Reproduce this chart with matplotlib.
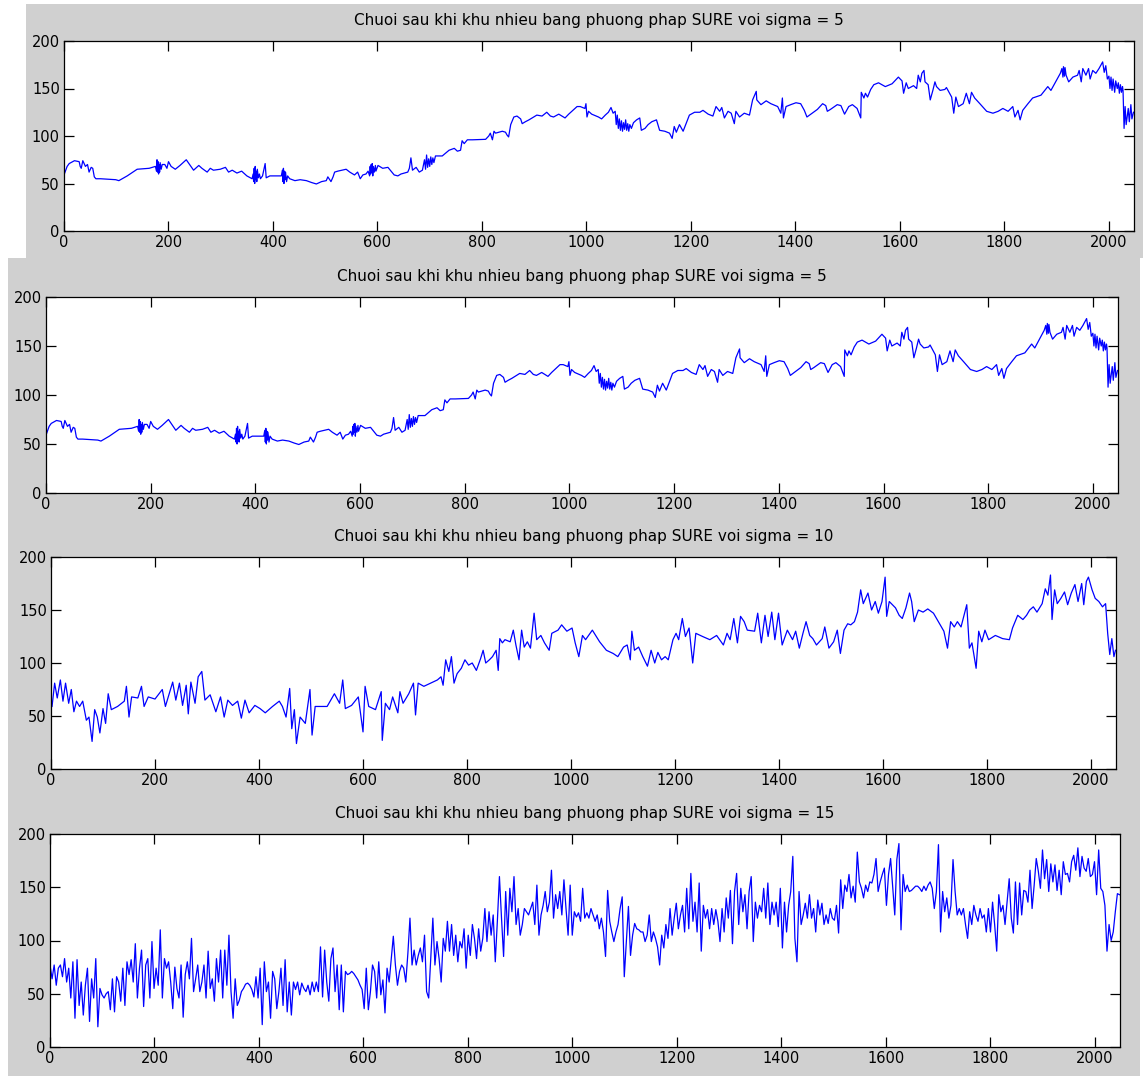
import numpy as np
import matplotlib
matplotlib.use("Agg")
import matplotlib.pyplot as plt
from matplotlib.patches import Rectangle

# Denoised series (sample index, value), SURE thresholding, sigma = 5
SIGMA5 = [
    (0, 59), (6, 68), (10, 71), (20, 74), (29, 73), (31, 68), (33, 66), (36, 74), (41, 68), (45, 70),
    (48, 62), (52, 67), (55, 66), (58, 57), (61, 55), (70, 55), (99, 54), (105, 53), (121, 58), (140, 65),
    (163, 66), (175, 68), (177, 63), (178, 75), (179, 62), (180, 73), (181, 60), (182, 70), (183, 62), (184, 72),
    (186, 65), (188, 70), (193, 70), (197, 66), (200, 73), (205, 68), (213, 65), (222, 69), (234, 75), (248, 64),
    (258, 69), (264, 66), (274, 62), (280, 66), (286, 64), (299, 65), (309, 67), (315, 62), (322, 64), (331, 61),
    (340, 63), (350, 58), (360, 55), (362, 60), (363, 52), (364, 66), (365, 50), (366, 68), (367, 54), (368, 63),
    (369, 52), (370, 65), (372, 56), (374, 60), (376, 55), (380, 58), (385, 71), (387, 56), (394, 58), (416, 58),
    (418, 64), (419, 52), (420, 66), (421, 50), (422, 63), (423, 54), (424, 62), (426, 52), (428, 58), (432, 55),
    (442, 53), (452, 54), (464, 53), (474, 51), (483, 49.5), (493, 52), (502, 53), (505, 57), (511, 52), (515, 57),
    (518, 62), (524, 63), (540, 65), (547, 62), (556, 59), (562, 62), (567, 55), (572, 59), (578, 60), (582, 63),
    (585, 58), (586, 68), (587, 60), (588, 70), (589, 62), (590, 71), (591, 58), (592, 68), (594, 62), (596, 69),
    (597, 63), (601, 69), (610, 66), (620, 67), (632, 59), (639, 58), (645, 60), (658, 62), (661, 66), (664, 77),
    (667, 64), (674, 67), (680, 62), (686, 64), (690, 75), (692, 65), (694, 80), (696, 67), (698, 76), (700, 68),
    (702, 78), (704, 70), (706, 77), (708, 72), (711, 79), (724, 79), (737, 85), (747, 87), (753, 84), (759, 85),
    (762, 95), (766, 92), (772, 96), (782, 96), (807, 96.5), (813, 100), (816, 103), (820, 96), (823, 105), (826, 103),
    (839, 105), (845, 104), (848, 101), (851, 99), (855, 112), (861, 120), (867, 121), (874, 118), (877, 113), (883, 115),
    (890, 117), (905, 122), (915, 121), (924, 125), (931, 121), (937, 120), (947, 123), (953, 121), (959, 119), (966, 123),
    (982, 131), (988, 131), (997, 129), (999, 134), (1001, 120), (1004, 126), (1010, 123), (1023, 120), (1029, 118), (1036, 122),
    (1042, 125), (1047, 130), (1051, 124), (1055, 126), (1057, 112), (1059, 122), (1061, 108), (1063, 118), (1065, 106), (1067, 116),
    (1069, 105), (1071, 114), (1073, 107), (1075, 117), (1077, 106), (1079, 113), (1081, 105), (1083, 112), (1086, 108), (1090, 114),
    (1096, 117), (1102, 119), (1105, 106), (1112, 108), (1118, 112), (1125, 115), (1134, 117), (1140, 106), (1150, 105), (1159, 103),
    (1164, 97.5), (1168, 110), (1172, 104), (1178, 112), (1185, 105), (1197, 122), (1207, 125), (1217, 125), (1223, 127), (1233, 123),
    (1242, 121), (1248, 131), (1255, 126), (1259, 130), (1264, 119), (1271, 126), (1277, 124), (1283, 113), (1286, 126), (1293, 120),
    (1302, 124), (1312, 122), (1318, 138), (1325, 147), (1326, 138), (1334, 133), (1344, 137), (1353, 134), (1366, 131), (1372, 124),
    (1375, 140), (1377, 119), (1382, 131), (1391, 133), (1401, 135), (1410, 134), (1417, 127), (1422, 120), (1432, 124), (1442, 128),
    (1452, 134), (1458, 132), (1461, 126), (1467, 128), (1480, 133), (1487, 132), (1494, 123), (1502, 131), (1509, 133), (1518, 129),
    (1525, 119), (1526, 146), (1531, 140), (1534, 145), (1538, 141), (1544, 149), (1550, 154), (1559, 156), (1572, 152), (1585, 155),
    (1597, 162), (1604, 158), (1607, 145), (1612, 156), (1616, 150), (1626, 153), (1632, 150), (1635, 164), (1639, 157), (1642, 166),
    (1646, 169), (1648, 157), (1654, 154), (1658, 138), (1663, 148), (1667, 157), (1670, 152), (1677, 148), (1686, 149), (1689, 151),
    (1699, 141), (1703, 124), (1707, 141), (1712, 131), (1721, 134), (1727, 145), (1733, 134), (1737, 146), (1743, 140), (1753, 134),
    (1766, 126), (1778, 124), (1788, 126), (1797, 129), (1807, 126), (1816, 131), (1820, 120), (1826, 127), (1830, 117), (1835, 127),
    (1845, 134), (1854, 140), (1870, 143), (1883, 152), (1889, 148), (1899, 158), (1907, 166), (1910, 171), (1912, 162), (1913, 173),
    (1915, 163), (1916, 172), (1918, 164), (1923, 157), (1931, 162), (1940, 164), (1943, 169), (1947, 157), (1950, 171), (1956, 164),
    (1961, 171), (1964, 160), (1969, 169), (1975, 166), (1981, 171), (1988, 178), (1991, 167), (1994, 174), (1997, 160), (2000, 163),
    (2002, 150), (2004, 162), (2006, 148), (2008, 160), (2011, 146), (2013, 158), (2016, 150), (2018, 156), (2020, 145), (2022, 154),
    (2024, 146), (2026, 152), (2027, 148), (2029, 108), (2031, 131), (2033, 112), (2037, 129), (2039, 115), (2042, 133), (2044, 118),
    (2047, 125),
]

# Denoised series, sigma = 10
SIGMA10 = [
    (2, 59), (7, 81), (12, 67), (18, 84), (23, 64), (28, 81), (34, 62), (39, 75), (44, 54), (49, 64),
    (55, 59), (61, 64), (68, 46), (73, 49), (79, 26), (84, 56), (89, 49), (94, 34), (100, 57), (105, 43),
    (110, 71), (116, 56), (128, 59), (141, 64), (145, 78), (150, 49), (155, 68), (167, 67), (174, 78), (179, 59),
    (187, 68), (200, 66), (214, 75), (220, 59), (234, 82), (240, 65), (247, 81), (253, 60), (260, 79), (264, 52),
    (269, 82), (277, 62), (283, 87), (290, 92), (296, 65), (306, 70), (317, 54), (326, 68), (333, 49), (340, 65),
    (349, 60), (359, 64), (366, 48), (373, 65), (381, 53), (392, 60), (402, 57), (412, 53), (426, 59), (439, 64),
    (445, 59), (452, 49), (459, 76), (463, 38), (468, 56), (472, 24), (479, 49), (489, 43), (498, 75), (502, 32),
    (508, 59), (518, 59), (531, 59), (545, 71), (555, 62), (561, 84), (566, 57), (578, 60), (591, 68), (600, 35),
    (604, 78), (611, 59), (624, 56), (635, 73), (637, 27), (643, 62), (651, 56), (657, 68), (667, 53), (671, 73),
    (677, 62), (688, 71), (697, 81), (701, 51), (706, 81), (717, 78), (730, 81), (743, 84), (750, 87), (754, 79),
    (759, 103), (765, 92), (770, 106), (775, 81), (781, 90), (789, 95), (796, 103), (803, 98), (810, 100), (818, 93),
    (826, 104), (831, 112), (836, 100), (843, 103), (849, 106), (856, 112), (860, 93), (863, 123), (868, 119), (873, 122),
    (883, 120), (889, 131), (894, 117), (900, 103), (905, 131), (910, 115), (916, 120), (922, 114), (929, 147), (934, 122),
    (942, 126), (949, 119), (958, 112), (963, 128), (975, 131), (982, 136), (992, 130), (1002, 133), (1008, 119), (1015, 106),
    (1022, 126), (1028, 122), (1041, 131), (1055, 120), (1068, 112), (1081, 109), (1090, 106), (1101, 115), (1108, 117), (1114, 103),
    (1117, 130), (1122, 112), (1130, 115), (1138, 106), (1147, 97), (1154, 112), (1161, 100), (1167, 110), (1174, 103), (1181, 106),
    (1187, 103), (1196, 122), (1202, 128), (1207, 122), (1214, 142), (1220, 125), (1227, 133), (1234, 100), (1240, 128), (1253, 125),
    (1267, 122), (1280, 126), (1293, 117), (1300, 128), (1306, 122), (1313, 142), (1320, 119), (1326, 144), (1333, 139), (1339, 131),
    (1353, 130), (1359, 147), (1366, 119), (1373, 145), (1379, 125), (1386, 148), (1392, 122), (1399, 147), (1406, 117), (1416, 131),
    (1426, 122), (1432, 130), (1439, 114), (1446, 128), (1452, 139), (1459, 126), (1465, 123), (1472, 117), (1483, 123), (1488, 134),
    (1496, 114), (1505, 120), (1512, 131), (1518, 109), (1525, 131), (1532, 137), (1538, 136), (1545, 139), (1551, 148), (1557, 169),
    (1562, 156), (1571, 166), (1578, 150), (1585, 158), (1591, 147), (1598, 158), (1604, 181), (1607, 144), (1612, 158), (1624, 152),
    (1631, 145), (1637, 142), (1644, 152), (1651, 166), (1655, 158), (1660, 139), (1668, 150), (1677, 148), (1686, 151), (1697, 147),
    (1710, 136), (1717, 130), (1724, 114), (1730, 139), (1737, 134), (1743, 139), (1750, 134), (1761, 155), (1766, 114), (1771, 119),
    (1779, 95), (1784, 130), (1790, 120), (1796, 131), (1803, 122), (1816, 126), (1830, 123), (1843, 122), (1849, 133), (1859, 145),
    (1869, 141), (1876, 145), (1882, 150), (1889, 153), (1896, 148), (1906, 156), (1912, 170), (1917, 164), (1922, 183), (1925, 141),
    (1930, 169), (1935, 156), (1942, 161), (1949, 167), (1955, 155), (1962, 166), (1969, 174), (1975, 158), (1982, 175), (1986, 155),
    (1991, 177), (1995, 181), (2002, 169), (2008, 161), (2015, 158), (2022, 153), (2028, 156), (2032, 128), (2036, 108), (2040, 123),
    (2044, 106), (2047, 112),
]

# Denoised series, sigma = 15 (values at evenly spaced samples over 0..2047)
SIGMA15 = [
    77, 64, 77, 58, 74, 77, 66, 83, 61, 74, 46, 80, 27, 82, 39, 61, 30, 58, 74, 24, 64, 46, 83, 19, 55, 49, 46, 50, 52, 35, 64, 33, 66,
    61, 43, 74, 39, 80, 68, 82, 61, 97, 46, 74, 91, 38, 77, 83, 46, 99, 55, 74, 58, 110, 46, 83, 74, 80, 61, 36, 75, 55, 46, 77,
    28, 68, 80, 64, 102, 52, 64, 77, 52, 61, 77, 46, 90, 55, 64, 43, 83, 61, 91, 46, 91, 58, 105, 52, 27, 64, 39, 44, 52, 55, 59, 60,
    58, 54, 47, 66, 46, 74, 21, 80, 52, 61, 27, 71, 64, 36, 52, 74, 39, 82, 33, 61, 30, 61, 54, 61, 49, 60, 55, 52, 58, 49, 61,
    52, 61, 52, 94, 47, 91, 61, 43, 83, 93, 52, 77, 35, 77, 33, 71, 68, 69, 71, 69, 66, 63, 58, 54, 36, 74, 35, 52, 77,
    71, 46, 80, 49, 63, 32, 74, 61, 83, 104, 77, 58, 71, 77, 74, 61, 88, 121, 77, 91, 77, 86, 93, 80, 105, 52, 46, 83, 121, 77, 99, 83, 61,
    102, 90, 118, 90, 115, 86, 105, 80, 99, 93, 111, 74, 105, 86, 115, 102, 83, 111, 90, 102, 130, 99, 127, 105, 124, 80, 118, 160, 121, 85,
    146, 105, 149, 127, 160, 115, 130,
    105, 115, 130, 127, 124, 130, 136, 115, 152, 105, 124, 133, 146, 127, 136, 166, 121, 143, 130, 146, 124, 157, 130, 105, 152, 105, 127,
    122, 126, 118, 149, 121, 126,
    121, 130, 124, 118, 124, 111, 121, 108, 85, 147, 118, 108, 99, 108, 115, 130, 141, 66, 99, 132, 86, 105, 116, 111, 110, 108, 108, 99,
    105, 124, 99, 108, 102, 94,
    77, 105, 93, 115, 102, 130, 105, 121, 135, 111, 124, 133, 108, 149, 111, 163, 118, 136, 108, 154, 90, 133, 121, 129, 111, 130, 115, 129,
    118, 99, 130, 108, 140,
    121, 147, 97, 146, 163, 115, 149, 127, 143, 111, 146, 160, 99, 136, 121, 133, 127, 149, 121, 154, 115, 136, 124, 136, 113, 149, 93, 136,
    108, 133, 146, 179, 102, 80,
    146, 115, 124, 135, 121, 143, 121, 130, 108, 138, 124, 135, 115, 124, 116, 130, 121, 119, 133, 107, 157, 130, 152, 146, 162, 140, 151,
    136, 183, 155, 149, 140, 152,
    146, 155, 154, 162, 177, 146, 155, 162, 168, 133, 162, 177, 151, 124, 176, 191, 110, 162, 146, 152, 146, 147, 149, 151, 151, 149, 146,
    151, 147, 152, 155, 149,
    130, 146, 190, 108, 146, 127, 140, 121, 133, 176, 146, 124, 130, 124, 130, 115, 102, 127, 115, 133, 124, 118, 130, 121, 124, 108, 130,
    108, 136, 115, 90, 143, 127, 133,
    115, 136, 158, 121, 107, 155, 115, 154, 124, 147, 146, 136, 166, 130, 152, 177, 165, 149, 185, 158, 176, 146, 172, 155, 171, 147, 166,
    143, 174, 162, 163, 155, 174, 180, 166, 187, 160, 179, 168, 165, 177, 160, 162, 174, 143, 185, 149, 146, 133, 90, 115, 100, 108, 127,
    144, 143,
]

TITLE = "Chuoi sau khi khu nhieu bang phuong phap SURE voi sigma = {}"
X_TICKS = list(range(0, 2001, 200))
Y_TICKS = [0, 50, 100, 150, 200]

W, H = 1143, 1076
GRAY = "#d0d0d0"
LINE = "#0000ff"

fig = plt.figure(figsize=(W / 100, H / 100), dpi=100, facecolor="white")


def fig_rect(x0, y0, x1, y1):
    return [x0 / W, 1 - y1 / H, (x1 - x0) / W, (y1 - y0) / H]


def backdrop(x0, y0, x1, y1):
    r = fig_rect(x0, y0, x1, y1)
    fig.patches.append(Rectangle((r[0], r[1]), r[2], r[3], transform=fig.transFigure,
                                 facecolor=GRAY, edgecolor="none", zorder=-10))


backdrop(26, 4, 1143, 258)
backdrop(8, 258, 1140, 1076)

panels = [
    ((64, 41, 1134, 231), SIGMA5, 5),
    ((46, 297, 1118, 493), SIGMA5, 5),
    ((51, 557, 1116, 769), SIGMA10, 10),
    ((50, 834, 1120, 1047), SIGMA15, 15),
]

font = ["DejaVu Sans"]

for box, series, sigma in panels:
    ax = fig.add_axes(fig_rect(*box))
    ax.set_zorder(5)
    ax.set_facecolor("white")
    if isinstance(series[0], tuple):
        xs = [p[0] for p in series]
        ys = [p[1] for p in series]
    else:
        ys = series
        xs = np.linspace(0, 2047, len(series))
    ax.plot(xs, ys, color=LINE, lw=0.9)
    ax.set_xlim(0, 2048)
    ax.set_ylim(0, 200)
    ax.set_xticks(X_TICKS)
    ax.set_yticks(Y_TICKS)
    ax.tick_params(direction="in", length=7, width=0.9, top=True, right=True,
                   labelsize=10.5, pad=3, colors="black")
    for lab in ax.get_xticklabels() + ax.get_yticklabels():
        lab.set_family(font)
    for s in ax.spines.values():
        s.set_linewidth(0.9)
        s.set_color("black")
    ax.text(0.5, 1.0 + 13 / (box[3] - box[1]), TITLE.format(sigma), transform=ax.transAxes,
            ha="center", va="bottom", fontsize=11, family=font, color="black")

fig.savefig("out.png", dpi=100, facecolor="white")
